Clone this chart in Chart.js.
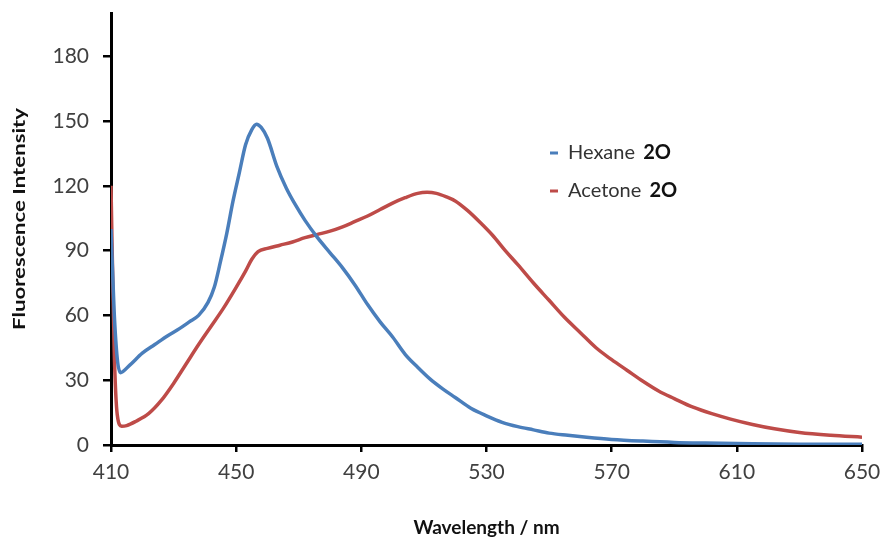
<!DOCTYPE html>
<html>
<head>
<meta charset="utf-8">
<script src="https://cdn.jsdelivr.net/npm/chart.js@4.4.1/dist/chart.umd.min.js"></script>
<style>
  html, body { margin: 0; padding: 0; background: #ffffff; }
  #wrap { width: 885px; height: 539px; position: relative; }
</style>
</head>
<body>
<div id="wrap"><canvas id="c" width="885" height="539"></canvas></div>
<script>
// ---- data ----
const seriesNames = ['Hexane', 'Acetone'];
const compoundLabel = '2O';
const seriesColors = ['#4a7ebb', '#be4b48'];
const xTickValues = [410, 450, 490, 530, 570, 610, 650];
const yTickValues = [0, 30, 60, 90, 120, 150, 180];
const xTitle = 'Wavelength / nm';
const yTitle = 'Fluorescence Intensity';

const hexaneX = [410, 411, 412, 413, 416, 420, 424, 428, 432, 435, 438, 441, 443, 445, 447, 449, 451, 453, 455, 456.5, 458, 460, 463, 466, 469, 472, 476, 480, 484, 488, 492, 496, 500, 504, 508, 512, 516, 520, 525, 530, 535, 540, 545, 550, 556, 562, 570, 580, 590, 600, 615, 630, 650];
const hexaneY = [100, 62, 40, 33.5, 37, 42.5, 46.5, 50.5, 54, 57, 60, 66, 73, 85, 98, 113, 126, 139, 146, 148.5, 147, 142, 129, 119, 111, 104, 96, 89, 82, 74, 65, 57, 50, 42, 36, 30.5, 26, 22, 17, 13.5, 10.5, 8.5, 7, 5.5, 4.5, 3.6, 2.6, 1.8, 1.2, 0.9, 0.6, 0.4, 0.3];

const acetoneX = [410, 411, 412, 413.4, 415, 418, 422, 426, 430, 434, 438, 442, 446, 450, 453, 455, 457, 460, 464, 468, 472, 476, 480, 484, 488, 492, 496, 500, 504, 508, 511, 514, 517, 520, 524, 528, 532, 536, 540, 545, 550, 555, 560, 565, 570, 575, 580, 585, 590, 596, 602, 608, 615, 622, 630, 640, 650];
const acetoneY = [120, 45, 14, 8.7, 9, 11, 14.5, 20.5, 28.5, 37.5, 46.5, 55, 63.5, 73, 80.5, 86, 89.5, 91, 92.5, 94, 96, 97.5, 99, 101, 103.5, 106, 109, 112, 114.5, 116.5, 117, 116.5, 115, 113, 108.5, 103, 97, 90, 83.5, 75, 67, 59, 52, 45, 39.5, 34.5, 29.5, 25, 21.5, 17.5, 14.5, 12, 9.5, 7.5, 5.8, 4.5, 3.6];

function pts(xs, ys) { return xs.map((x, i) => ({ x: x, y: ys[i] })); }

const annotPlugin = {
  id: 'inlineLegend',
  afterDraw(chart) {
    const ctx = chart.ctx;
    const rows = [{ name: seriesNames[0], color: seriesColors[0], y: 153 }, { name: seriesNames[1], color: seriesColors[1], y: 191 }];
    ctx.save();
    ctx.textBaseline = 'middle';
    rows.forEach(r => {
      ctx.fillStyle = r.color;
      ctx.fillRect(550, r.y - 1.5, 8, 3);
      ctx.font = '20px Lato';
      ctx.fillStyle = '#333333';
      ctx.fillText(r.name, 568, r.y);
      const w = ctx.measureText(r.name + ' ').width;
      ctx.font = 'bold 20px Lato';
      ctx.fillStyle = '#111111';
      ctx.fillText(compoundLabel, 568 + w + 3, r.y);
    });
    // y axis title (stretched along its length like the reference)
    ctx.translate(20, 219);
    ctx.rotate(-Math.PI / 2);
    ctx.font = 'bold 17px Lato';
    const tw = ctx.measureText(yTitle).width;
    ctx.scale(222 / tw, 1);
    ctx.textAlign = 'center';
    ctx.fillStyle = '#111111';
    ctx.fillText(yTitle, 0, 0);
    ctx.restore();
  }
};

new Chart(document.getElementById('c'), {
  type: 'line',
  data: {
    datasets: [
      { label: seriesNames[0] + ' ' + compoundLabel, data: pts(hexaneX, hexaneY), borderColor: seriesColors[0], borderWidth: 3.5, pointRadius: 0, cubicInterpolationMode: 'monotone', fill: false },
      { label: seriesNames[1] + ' ' + compoundLabel, data: pts(acetoneX, acetoneY), borderColor: seriesColors[1], borderWidth: 3.5, pointRadius: 0, cubicInterpolationMode: 'monotone', fill: false }
    ]
  },
  options: {
    responsive: false,
    animation: false,
    layout: { padding: { left: 0, right: 23, top: 13, bottom: 0 } },
    plugins: { legend: { display: false }, tooltip: { enabled: false } },
    scales: {
      x: {
        type: 'linear', min: 410, max: 650,
        afterBuildTicks: s => { s.ticks = xTickValues.map(v => ({ value: v })); },
        afterFit: s => { s.height = 94; s.paddingLeft = 0; s.paddingRight = 0; },
        border: { display: true, color: '#000000', width: 3 },
        grid: { display: true, drawOnChartArea: false, drawTicks: true, tickLength: 7, color: '#000000', lineWidth: 2.5 },
        ticks: { color: '#404040', font: { family: 'Lato', size: 21 }, padding: 8, maxRotation: 0 },
        title: { display: true, text: xTitle, color: '#111111', font: { family: 'Lato', size: 19, weight: 'bold' }, padding: { top: 20, bottom: 0 } }
      },
      y: {
        type: 'linear', min: 0, max: 200,
        afterBuildTicks: s => { s.ticks = yTickValues.map(v => ({ value: v })); },
        afterFit: s => { s.width = 111; s.paddingTop = 0; s.paddingBottom = 0; },
        border: { display: true, color: '#000000', width: 3 },
        grid: { display: true, drawOnChartArea: false, drawTicks: true, tickLength: 8, color: '#000000', lineWidth: 2.5 },
        ticks: { color: '#404040', font: { family: 'Lato', size: 21 }, padding: 14 },
        title: { display: false }
      }
    }
  },
  plugins: [annotPlugin]
});
</script>
</body>
</html>
